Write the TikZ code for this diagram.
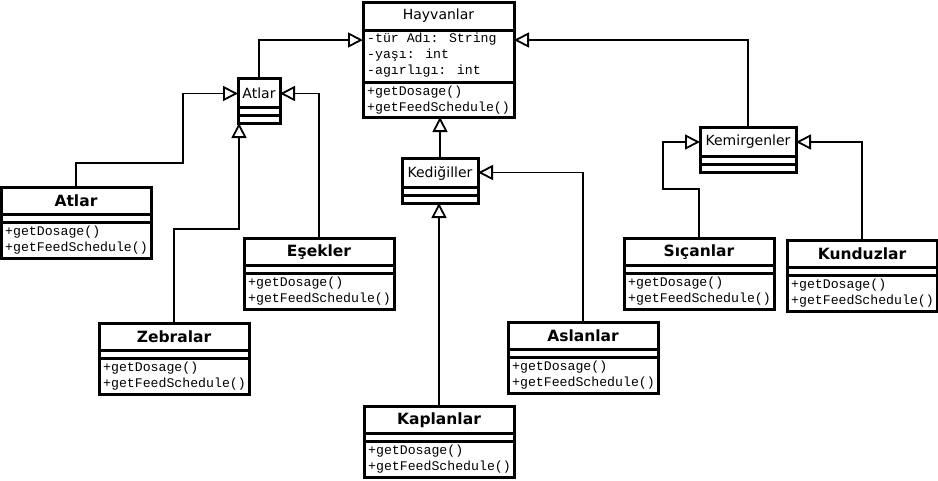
\documentclass[tikz,border=0pt]{standalone}
\usepackage{fontspec}
\setmainfont{DejaVu Sans}
\newfontfamily\monof{Liberation Mono}
\usetikzlibrary{arrows.meta,calc}
\tikzset{
  clsbox/.style={draw, line width=3pt, fill=white, inner sep=0pt, outer sep=0pt},
  sepline/.style={line width=3pt},
  ttl/.style={inner sep=0pt, font=\bfseries\fontsize{15.5pt}{18pt}\selectfont},
  sttl/.style={inner sep=0pt, font=\fontsize{14pt}{17pt}\selectfont},
  mono/.style={inner sep=0pt, anchor=west, font=\monof\fontsize{13.2pt}{15pt}\selectfont},
  inh/.style={line width=1.8pt, -{Triangle[fill=white, length=15pt, width=15pt, line width=1.8pt]}}
}
\newcommand\bigcls[4]{%
  \node[clsbox, minimum width=150pt, minimum height=71pt, anchor=north west] (#1) at (#2,#3) {};
  \node[ttl] (#1-t) at ($(#1.north)+(0,14)$) {#4};
  \draw[sepline] ($(#1.north west)+(0,27)$) -- ($(#1.north east)+(0,27)$);
  \draw[sepline] ($(#1.north west)+(0,35)$) -- ($(#1.north east)+(0,35)$);
  \node[mono] (#1-m1) at ($(#1.north west)+(4,45)$) {+getDosage()};
  \node[mono] (#1-m2) at ($(#1.north west)+(4,61)$) {+getFeedSchedule()};
}
\newcommand\smallcls[5]{%
  \node[clsbox, minimum width=#4pt, minimum height=45pt, anchor=north west] (#1) at (#2,#3) {};
  \node[sttl] (#1-t) at ($(#1.north)+(0,15)$) {#5};
  \draw[sepline] ($(#1.north west)+(0,29)$) -- ($(#1.north east)+(0,29)$);
  \draw[sepline] ($(#1.north west)+(0,37)$) -- ($(#1.north east)+(0,37)$);
}
\begin{document}
\begin{tikzpicture}[x=1pt, y=-1pt]
\fill[white] (0,0) rectangle (938,480);
\useasboundingbox (0,0) rectangle (938,480);

% Hayvanlar
\node[clsbox, minimum width=151pt, minimum height=115pt, anchor=north west] (hay) at (363,2) {};
\node[sttl] (hay-t) at ($(hay.north)+(0,14)$) {Hayvanlar};
\draw[sepline] ($(hay.north west)+(0,28)$) -- ($(hay.north east)+(0,28)$);
\draw[sepline] ($(hay.north west)+(0,80)$) -- ($(hay.north east)+(0,80)$);
\node[mono] (hay-a1) at ($(hay.north west)+(4,37)$) {-tür Adı: String};
\node[mono] (hay-a2) at ($(hay.north west)+(4,53)$) {-yaşı: int};
\node[mono] (hay-a3) at ($(hay.north west)+(4,69)$) {-agırlıgı: int};
\node[mono] (hay-m1) at ($(hay.north west)+(4,90)$) {+getDosage()};
\node[mono] (hay-m2) at ($(hay.north west)+(4,106)$) {+getFeedSchedule()};

% abstract classes
\smallcls{atlS}{238}{78}{42}{Atlar}
\smallcls{ked}{402}{158}{76}{Kediğiller}
\smallcls{kem}{700}{127}{96}{Kemirgenler}

% concrete classes
\bigcls{atlB}{1}{187}{Atlar}
\bigcls{esk}{244}{238}{Eşekler}
\bigcls{zeb}{99}{323}{Zebralar}
\bigcls{asl}{508}{322}{Aslanlar}
\bigcls{kap}{364}{406}{Kaplanlar}
\bigcls{sic}{624}{238}{Sıçanlar}
\bigcls{kun}{787}{240}{Kunduzlar}

% inheritance connectors
\draw[inh] (atlS.north) |- ([yshift=19.5pt]hay.west);
\draw[inh] (kem.north) |- ([yshift=19.5pt]hay.east);
\draw[inh] (ked.north) -- (ked.north |- hay.south);
\draw[inh] (atlB.north) -- ++(0,-24) -- ++(107,0) |- ([yshift=7pt]atlS.west);
\draw[inh] (esk.north) |- ([yshift=7pt]atlS.east);
\draw[inh] (zeb.north) -- ++(0,-94) -| ([xshift=-20pt]atlS.south);
\draw[inh] (kap.north) -- (kap.north |- ked.south);
\draw[inh] (asl.north) |- ([yshift=8pt]ked.east);
\draw[inh] (sic.north) -- ++(0,-49) -- ++(-36,0) |- ([yshift=7.5pt]kem.west);
\draw[inh] (kun.north) |- ([yshift=7.5pt]kem.east);
\end{tikzpicture}
\end{document}
